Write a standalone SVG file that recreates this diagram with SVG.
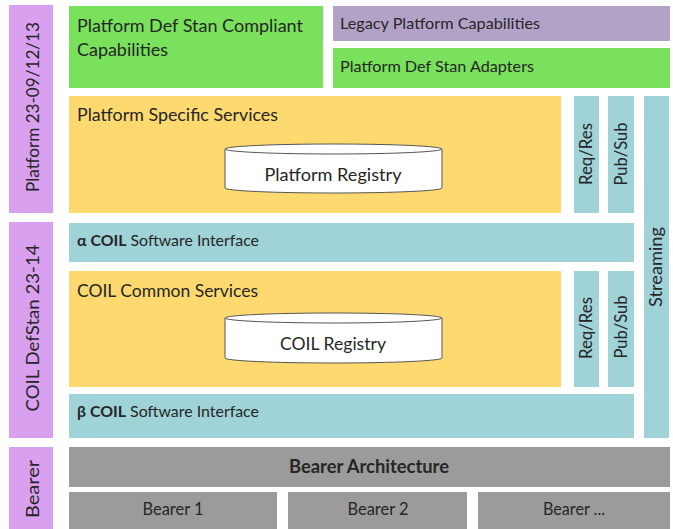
<svg xmlns="http://www.w3.org/2000/svg" width="673" height="529" viewBox="0 0 673 529">
<style>
text{font-family:"Lato","Liberation Sans",sans-serif;fill:#262626}
.l{font-size:18px}
.s{font-size:16px}
.m{font-size:17px}
.b{font-weight:bold}
.side{fill:#d8a0ee}
.grn{fill:#79e15b}
.leg{fill:#b3a2c8}
.yel{fill:#fed970}
.teal{fill:#9fd3d8}
.gray{fill:#9b9b9b}
.cyl{fill:#ffffff;stroke:#555555;stroke-width:1}
.c{text-anchor:middle}
</style>
<g id="side-platform"><rect class="side" x="9" y="5" width="44" height="208"/><text class="l c" transform="translate(39,107) rotate(-90)" textLength="170" lengthAdjust="spacingAndGlyphs">Platform 23-09/12/13</text></g>
<g id="side-coil"><rect class="side" x="9" y="222" width="44" height="216"/><text class="l c" transform="translate(39,328) rotate(-90)" textLength="167" lengthAdjust="spacingAndGlyphs">COIL DefStan 23-14</text></g>
<g id="side-bearer"><rect class="side" x="9" y="447" width="44" height="82"/><text class="l c" transform="translate(39,489) rotate(-90)" textLength="58" lengthAdjust="spacingAndGlyphs">Bearer</text></g>
<g id="compliant"><rect class="grn" x="69" y="6" width="254" height="82"/><text class="l" x="77" y="32" textLength="226" lengthAdjust="spacingAndGlyphs">Platform Def Stan Compliant</text><text class="l" x="77" y="56" textLength="91" lengthAdjust="spacingAndGlyphs">Capabilities</text></g>
<g id="legacy"><rect class="leg" x="333" y="6" width="337" height="35"/><text class="s" x="340" y="29" textLength="200" lengthAdjust="spacingAndGlyphs">Legacy Platform Capabilities</text></g>
<g id="adapters"><rect class="grn" x="333" y="48" width="337" height="40"/><text class="s" x="340" y="72" textLength="194" lengthAdjust="spacingAndGlyphs">Platform Def Stan Adapters</text></g>
<g id="pss"><rect class="yel" x="69" y="96" width="492" height="117"/><text class="l" x="77" y="121" textLength="201" lengthAdjust="spacingAndGlyphs">Platform Specific Services</text></g>
<g id="platform-registry"><path class="cyl" d="M225,149 V188 A108.5,5 0 0 0 442,188 V149 A108.5,5 0 0 0 225,149 Z"/><path class="cyl" fill="none" d="M225,149 A108.5,5 0 0 0 442,149"/><text class="l c" x="333" y="181" textLength="137" lengthAdjust="spacingAndGlyphs">Platform Registry</text></g>
<g id="reqres1"><rect class="teal" x="574" y="96" width="25" height="117"/><text class="m c" transform="translate(592,154) rotate(-90)" textLength="62" lengthAdjust="spacingAndGlyphs">Req/Res</text></g>
<g id="pubsub1"><rect class="teal" x="608" y="96" width="26" height="117"/><text class="m c" transform="translate(627,154) rotate(-90)" textLength="63" lengthAdjust="spacingAndGlyphs">Pub/Sub</text></g>
<g id="streaming"><rect class="teal" x="644" y="96" width="25" height="342"/><text class="m c" transform="translate(662,267) rotate(-90)" textLength="80" lengthAdjust="spacingAndGlyphs">Streaming</text></g>
<g id="alpha"><rect class="teal" x="69" y="223" width="565" height="39"/><text class="s" x="77" y="246" textLength="182" lengthAdjust="spacingAndGlyphs"><tspan class="b">α COIL</tspan> Software Interface</text></g>
<g id="ccs"><rect class="yel" x="69" y="271" width="492" height="116"/><text class="l" x="77" y="297" textLength="181" lengthAdjust="spacingAndGlyphs">COIL Common Services</text></g>
<g id="coil-registry"><path class="cyl" d="M225,318 V358 A108.5,5 0 0 0 442,358 V318 A108.5,5 0 0 0 225,318 Z"/><path class="cyl" fill="none" d="M225,318 A108.5,5 0 0 0 442,318"/><text class="l c" x="333" y="350" textLength="106" lengthAdjust="spacingAndGlyphs">COIL Registry</text></g>
<g id="reqres2"><rect class="teal" x="574" y="271" width="25" height="116"/><text class="m c" transform="translate(592,328) rotate(-90)" textLength="62" lengthAdjust="spacingAndGlyphs">Req/Res</text></g>
<g id="pubsub2"><rect class="teal" x="608" y="271" width="26" height="116"/><text class="m c" transform="translate(627,327) rotate(-90)" textLength="63" lengthAdjust="spacingAndGlyphs">Pub/Sub</text></g>
<g id="beta"><rect class="teal" x="69" y="394" width="565" height="44"/><text class="s" x="77" y="417" textLength="182" lengthAdjust="spacingAndGlyphs"><tspan class="b">β COIL</tspan> Software Interface</text></g>
<g id="bearer-arch"><rect class="gray" x="69" y="447" width="601" height="40"/><text class="l b c" x="369" y="473" textLength="160" lengthAdjust="spacingAndGlyphs">Bearer Architecture</text></g>
<g id="bearer1"><rect class="gray" x="69" y="492" width="208" height="37"/><text class="m c" x="173" y="515" textLength="61" lengthAdjust="spacingAndGlyphs">Bearer 1</text></g>
<g id="bearer2"><rect class="gray" x="288" y="492" width="179" height="37"/><text class="m c" x="378" y="515" textLength="61" lengthAdjust="spacingAndGlyphs">Bearer 2</text></g>
<g id="bearer3"><rect class="gray" x="478" y="492" width="192" height="37"/><text class="m c" x="574" y="515" textLength="62" lengthAdjust="spacingAndGlyphs">Bearer ...</text></g>
<g id="connectors"/>
</svg>
